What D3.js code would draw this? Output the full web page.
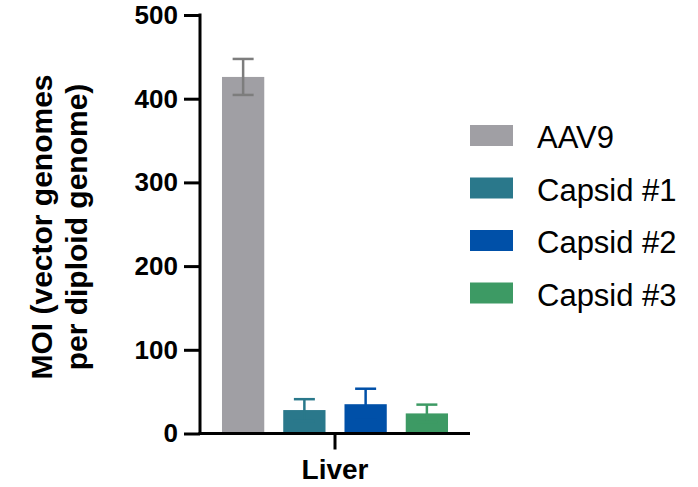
<!DOCTYPE html>
<html>
<head>
<meta charset="utf-8">
<script src="https://cdn.jsdelivr.net/npm/d3@7"></script>
<style>
  body { margin: 0; background: #fff; }
  svg { display: block; font-family: "Liberation Sans", Arial, sans-serif; }
</style>
</head>
<body>
<svg id="chart" width="698" height="487"></svg>
<script>
// Data
const groups = ["Liver"];
const series = ["AAV9", "Capsid #1", "Capsid #2", "Capsid #3"];
const means = [426, 28, 35, 24];
const sds = [21.5, 13, 18.5, 10.5];
const yTicks = [0, 100, 200, 300, 400, 500];

const colors = ["#a09fa4", "#2a788b", "#0050a8", "#3d9a64"];
const errColors = ["#7d7d7d", "#2a788b", "#0050a8", "#3d9a64"];

const svg = d3.select("#chart");

const xAxisLeft = 200, xAxisRight = 470;
const yScale = d3.scaleLinear().domain([0, 500]).range([433.5, 15]);
const xGroup = d3.scaleBand().domain(groups).range([xAxisLeft, xAxisRight]);
const xSeries = d3.scaleBand().domain(series)
    .range([212.5, 457.5]).paddingInner(0.31).paddingOuter(0.155);

// Bars
const data = series.map((s, i) => ({name: s, mean: means[i], sd: sds[i], i}));

svg.append("g")
    .selectAll("rect")
    .data(data)
    .join("rect")
    .attr("x", d => xSeries(d.name))
    .attr("y", d => yScale(d.mean))
    .attr("width", xSeries.bandwidth())
    .attr("height", d => yScale(0) - yScale(d.mean))
    .attr("fill", d => colors[d.i]);

// Error bars
const err = svg.append("g")
    .selectAll("g")
    .data(data)
    .join("g")
    .attr("stroke", d => errColors[d.i])
    .attr("stroke-width", 2.5);

const cx = d => xSeries(d.name) + xSeries.bandwidth() / 2;
err.append("line")
    .attr("x1", cx).attr("x2", cx)
    .attr("y1", d => yScale(d.mean + d.sd))
    .attr("y2", d => yScale(d.mean - d.sd));
err.append("line")
    .attr("x1", d => cx(d) - 10.5).attr("x2", d => cx(d) + 10.5)
    .attr("y1", d => yScale(d.mean + d.sd))
    .attr("y2", d => yScale(d.mean + d.sd));
err.append("line")
    .attr("x1", d => cx(d) - 10.5).attr("x2", d => cx(d) + 10.5)
    .attr("y1", d => yScale(d.mean - d.sd))
    .attr("y2", d => yScale(d.mean - d.sd));

// Y axis
const yAxis = d3.axisLeft(yScale).tickValues(yTicks).tickSize(16).tickSizeOuter(0).tickPadding(6);
svg.append("g")
    .attr("transform", `translate(${xAxisLeft},0)`)
    .call(yAxis)
    .call(g => g.select(".domain").attr("stroke-width", 3).attr("d", `M0,${yScale(500) - 1.5}V${yScale(0)}`))
    .call(g => g.selectAll(".tick line").attr("stroke-width", 3))
    .call(g => g.selectAll(".tick text")
        .attr("font-size", 26).attr("font-weight", "bold").attr("fill", "#000")
        .attr("font-family", "'Liberation Sans', Arial, sans-serif"));

// X axis
const xAxis = d3.axisBottom(xGroup).tickSize(16).tickSizeOuter(0).tickPadding(10);
svg.append("g")
    .attr("transform", `translate(0,${yScale(0)})`)
    .call(xAxis)
    .call(g => g.select(".domain").attr("stroke-width", 3).attr("d", `M${xAxisLeft - 1.5},0H${xAxisRight}`))
    .call(g => g.selectAll(".tick line").attr("stroke-width", 3))
    .call(g => g.selectAll(".tick text")
        .attr("font-size", 28).attr("font-weight", "bold").attr("fill", "#000")
        .attr("font-family", "'Liberation Sans', Arial, sans-serif"));

// Y title
const yTitle = svg.append("text")
    .attr("transform", "translate(0,227) rotate(-90)")
    .attr("text-anchor", "middle")
    .attr("font-size", 30)
    .attr("font-weight", "bold");
yTitle.append("tspan").attr("x", 0).attr("y", 52).text("MOI (vector genomes");
yTitle.append("tspan").attr("x", 0).attr("y", 87).text("per diploid genome)");

// Legend
const legend = svg.append("g")
    .selectAll("g")
    .data(data)
    .join("g")
    .attr("transform", d => `translate(470,${125 + d.i * 52.5})`);
legend.append("rect")
    .attr("width", 43).attr("height", 21)
    .attr("fill", d => colors[d.i]);
legend.append("text")
    .attr("x", 67).attr("y", 23)
    .attr("font-size", 31)
    .text(d => d.name);
</script>
</body>
</html>
